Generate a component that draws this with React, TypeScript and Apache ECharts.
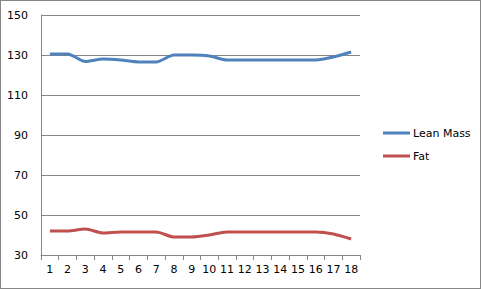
import React, { useEffect, useRef } from "react";
import * as echarts from "echarts";

const categories = ["1","2","3","4","5","6","7","8","9","10","11","12","13","14","15","16","17","18"];
const leanMass = [130.5, 130.5, 126.7, 128, 127.5, 126.5, 126.5, 130, 130, 129.5, 127.5, 127.5, 127.5, 127.5, 127.5, 127.5, 129, 131.5];
const fat = [42, 42, 43, 41, 41.5, 41.5, 41.5, 39, 39, 40, 41.5, 41.5, 41.5, 41.5, 41.5, 41.5, 40.5, 38];

const FONT = "DejaVu Sans";

export default function App() {
  const ref = useRef<HTMLDivElement>(null);
  useEffect(() => {
    document.body.style.margin = "0";
    const chart = echarts.init(ref.current!, null, { renderer: "svg" });
    chart.setOption({
      animation: false,
      backgroundColor: "transparent",
      textStyle: { fontFamily: FONT },
      grid: { left: 41, right: 121, top: 15, bottom: 34, containLabel: false },
      legend: {
        orient: "vertical",
        left: 378,
        top: 121,
        itemWidth: 27,
        itemHeight: 3,
        itemGap: 9,
        icon: "rect",
        textStyle: { fontFamily: FONT, fontSize: 11, color: "#000", lineHeight: 14, padding: [0, 0, 0, -2] },
        data: ["Lean Mass", "Fat"],
      },
      xAxis: {
        type: "category",
        data: categories,
        boundaryGap: true,
        axisLine: { lineStyle: { color: "#868686", width: 1 } },
        axisTick: { show: true, length: 5, lineStyle: { color: "#868686" } },
        axisLabel: { color: "#000", fontSize: 11, fontFamily: FONT, margin: 9, interval: 0 },
        splitLine: { show: false },
      },
      yAxis: {
        type: "value",
        min: 30,
        max: 150,
        interval: 20,
        axisLine: { show: true, lineStyle: { color: "#868686", width: 1 } },
        axisTick: { show: false },
        axisLabel: { color: "#000", fontSize: 11, fontFamily: FONT, margin: 13 },
        splitLine: { show: true, lineStyle: { color: "#868686", width: 1 } },
      },
      series: [
        {
          name: "Lean Mass",
          type: "line",
          data: leanMass,
          smooth: 0.25,
          symbol: "none",
          lineStyle: { color: "#4F81BD", width: 3 },
          itemStyle: { color: "#4F81BD" },
        },
        {
          name: "Fat",
          type: "line",
          data: fat,
          smooth: 0.25,
          symbol: "none",
          lineStyle: { color: "#C0504D", width: 3 },
          itemStyle: { color: "#C0504D" },
        },
      ],
    });
    return () => chart.dispose();
  }, []);
  return (
    <div style={{ width: 481, height: 289, boxSizing: "border-box", border: "1px solid #868686", position: "relative", background: "#fff" }}>
      <div ref={ref} style={{ position: "absolute", left: -1, top: -1, width: 481, height: 289 }} />
    </div>
  );
}
